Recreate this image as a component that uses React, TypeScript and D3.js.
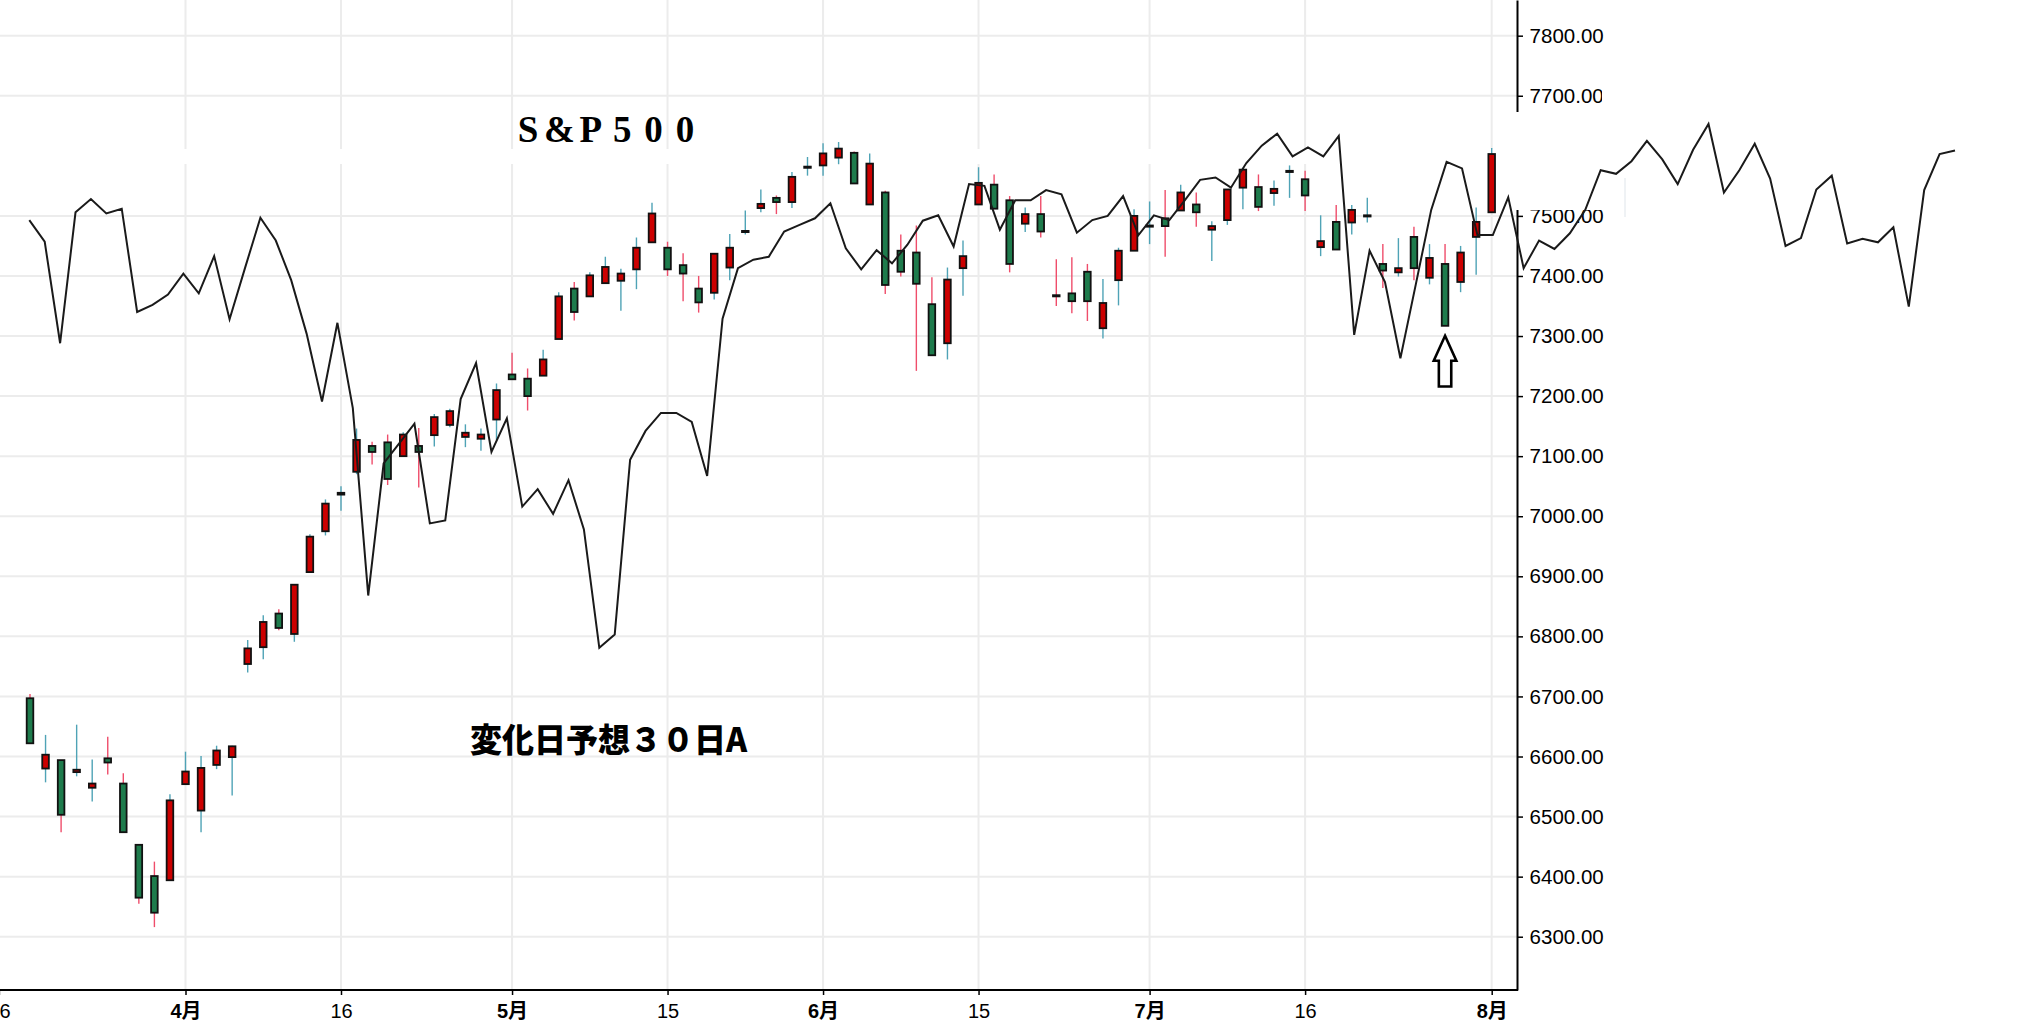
import React, { useEffect, useRef } from 'react';
import * as d3 from 'd3';

const W = 2025;
const H = 1024;

// trading calendar (NYSE 2026)
const firstDay = '2026-03-16';
const lastDay = '2026-08-03';
const holidays = ['2026-04-03', '2026-05-25', '2026-06-19', '2026-07-03'];

// candles start on 2026-03-18
const firstCandle = '2026-03-18';
const opens = [6697, 6580, 6594, 6574, 6548, 6597, 6555, 6453, 6401, 6394, 6554, 6510, 6586, 6599,
  6754, 6782, 6838, 6804, 6907, 6975, 7036, 7074, 7117, 7123, 7100, 7117, 7135, 7152, 7132, 7129,
  7161, 7236, 7229, 7234, 7295, 7379, 7366, 7388, 7392, 7411, 7456, 7447, 7418, 7379, 7372, 7414,
  7473, 7513, 7530, 7523, 7580, 7584, 7597, 7605, 7519, 7539, 7442, 7439, 7353, 7288, 7413, 7519,
  7552, 7526, 7487, 7503, 7368, 7371, 7407, 7313, 7393, 7442, 7482, 7496, 7509, 7519, 7477, 7493,
  7547, 7548, 7538, 7573, 7561, 7448, 7490, 7489, 7499, 7420, 7406, 7465, 7397, 7420, 7390, 7465, 7506];
const highs = [6704, 6636, 6594, 6653, 6595, 6633, 6572, 6453, 6425, 6537, 6608, 6601, 6618, 6618,
  6794, 6835, 6845, 6886, 6970, 7028, 7050, 7146, 7124, 7136, 7140, 7147, 7170, 7179, 7153, 7146,
  7221, 7272, 7246, 7277, 7373, 7390, 7406, 7432, 7412, 7464, 7522, 7457, 7438, 7400, 7437, 7470,
  7509, 7544, 7534, 7573, 7598, 7621, 7623, 7607, 7604, 7542, 7469, 7484, 7398, 7414, 7459, 7581,
  7569, 7533, 7514, 7533, 7428, 7431, 7420, 7395, 7447, 7511, 7524, 7543, 7552, 7539, 7491, 7544,
  7580, 7569, 7559, 7584, 7575, 7501, 7518, 7518, 7530, 7453, 7463, 7482, 7453, 7453, 7450, 7514, 7613];
const lows = [6622, 6557, 6474, 6567, 6525, 6570, 6474, 6355, 6316, 6394, 6554, 6474, 6579, 6535,
  6740, 6762, 6810, 6791, 6907, 6968, 7009, 7070, 7086, 7052, 7100, 7048, 7116, 7148, 7115, 7109,
  7127, 7228, 7176, 7234, 7295, 7326, 7366, 7388, 7342, 7378, 7456, 7400, 7358, 7339, 7361, 7393,
  7469, 7506, 7503, 7513, 7567, 7567, 7586, 7554, 7519, 7370, 7399, 7242, 7268, 7261, 7367, 7519,
  7512, 7406, 7473, 7464, 7350, 7338, 7325, 7296, 7351, 7442, 7453, 7432, 7509, 7482, 7425, 7485,
  7511, 7508, 7517, 7530, 7508, 7433, 7444, 7469, 7489, 7380, 7399, 7393, 7386, 7317, 7373, 7402, 7506];
const closes = [6622, 6603, 6503, 6578, 6555, 6590, 6474, 6365, 6340, 6527, 6575, 6581, 6610, 6617,
  6780, 6824, 6814, 6886, 6966, 7021, 7039, 7127, 7107, 7062, 7136, 7107, 7165, 7175, 7139, 7136,
  7210, 7228, 7200, 7261, 7366, 7340, 7401, 7415, 7404, 7447, 7504, 7411, 7404, 7356, 7437, 7447,
  7475, 7520, 7523, 7565, 7582, 7604, 7612, 7554, 7587, 7385, 7407, 7387, 7268, 7394, 7433, 7555,
  7512, 7420, 7503, 7474, 7366, 7358, 7358, 7355, 7442, 7500, 7484, 7483, 7539, 7506, 7483, 7544,
  7577, 7515, 7545, 7575, 7534, 7458, 7444, 7510, 7501, 7409, 7413, 7413, 7430, 7317, 7439, 7490, 7603];

// 変化日予想 line (its own evenly spaced steps)
const forecast = [7493, 7457, 7288, 7506, 7528, 7504, 7512, 7340, 7352, 7369, 7404, 7371, 7433, 7328,
  7413, 7497, 7459, 7393, 7304, 7191, 7322, 7180, 6868, 7088, 7121, 7154, 6988, 6993, 7195, 7255,
  7107, 7163, 7016, 7045, 7004, 7060, 6978, 6781, 6803, 7094, 7142, 7172, 7172, 7157, 7067, 7329,
  7413, 7427, 7432, 7474, 7485, 7496, 7521, 7446, 7411, 7443, 7421, 7452, 7492, 7501, 7449, 7553,
  7550, 7477, 7526, 7526, 7543, 7536, 7472, 7493, 7500, 7533, 7468, 7501, 7493, 7526, 7560, 7564,
  7547, 7588, 7617, 7637, 7599, 7614, 7599, 7633, 7302, 7442, 7390, 7263, 7386, 7510, 7590, 7579,
  7468, 7468, 7531, 7413, 7459, 7445, 7471, 7510, 7576, 7570, 7591, 7625, 7594, 7553, 7610, 7653,
  7539, 7576, 7620, 7562, 7450, 7463, 7544, 7567, 7454, 7462, 7456, 7481, 7349, 7543, 7603, 7609];

const xTickDates = ['2026-03-16', '2026-04-01', '2026-04-16', '2026-05-01', '2026-05-15',
  '2026-06-01', '2026-06-15', '2026-07-01', '2026-07-16', '2026-08-03'];
const xTickLabels = ['16', '4月', '16', '5月', '15', '6月', '15', '7月', '16', '8月'];
const yTicks = [6300, 6400, 6500, 6600, 6700, 6800, 6900, 7000, 7100, 7200, 7300, 7400, 7500, 7600, 7700, 7800];

const title = 'S&P500';
const note = '変化日予想３０日A';
const arrowDate = '2026-07-29';

const fmt = d3.timeFormat('%Y-%m-%d');
const parse = d3.timeParse('%Y-%m-%d');
const tradingDays = d3.timeDays(parse(firstDay)!, d3.timeDay.offset(parse(lastDay)!, 1))
  .filter(d => d.getDay() !== 0 && d.getDay() !== 6 && !holidays.includes(fmt(d)))
  .map(d => fmt(d));
const dayIndex = (s: string) => tradingDays.indexOf(s);

const plotRight = 1517;
const plotBottom = 990;

export default function App() {
  const yAxisRef = useRef<SVGGElement>(null);
  const xAxisRef = useRef<SVGGElement>(null);

  const x = d3.scaleLinear().domain([0, tradingDays.length - 1]).range([-1.1, 1491.7]);
  const y = d3.scaleLinear().domain([6211.3, 7859.4]).range([plotBottom, 0]);
  const lx = d3.scaleLinear().domain([0, forecast.length - 1]).range([29.3, 1955]);

  const start = dayIndex(firstCandle);
  const candles = opens.map((o, k) => ({ i: start + k, o, h: highs[k], l: lows[k], c: closes[k] }));
  const tickIdx = xTickDates.map(dayIndex);

  useEffect(() => {
    const ya = d3.select(yAxisRef.current!);
    ya.call(d3.axisRight(y).tickValues(yTicks).tickFormat(d3.format('.2f')).tickSize(6).tickSizeOuter(0).tickPadding(6.6) as any);
    ya.select('.domain').attr('stroke', '#000').attr('stroke-width', 2);
    ya.selectAll('.tick line').attr('stroke', '#000').attr('stroke-width', 1.5);
    ya.selectAll('.tick text').attr('font-family', '"Liberation Sans", Arial, sans-serif').attr('font-size', 20.5).attr('fill', '#000');

    const xa = d3.select(xAxisRef.current!);
    xa.call(d3.axisBottom(x).tickValues(tickIdx).tickFormat((d: any, i: number) => xTickLabels[i]).tickSize(5).tickPadding(9) as any);
    xa.select('.domain').remove();
    xa.selectAll('.tick line').attr('stroke', '#000').attr('stroke-width', 1.5);
    xa.selectAll('.tick text')
      .attr('font-family', '"Liberation Sans", "Noto Sans CJK JP", sans-serif')
      .attr('font-size', 20)
      .attr('fill', '#000')
      .attr('font-weight', (d: any, i: number) => (xTickLabels[i].includes('月') ? 'bold' : 'normal'));
  }, []);

  const linePath = d3.line<number>().x((d, j) => lx(j)).y(d => y(d))(forecast) || '';

  const ai = dayIndex(arrowDate);
  const ak = ai - start;
  const ax = x(ai);
  const tip = y(lows[ak]) + 10;
  const arrow = `M${ax},${tip} L${ax + 11.3},${tip + 25} L${ax + 6.2},${tip + 25} L${ax + 6.2},${tip + 50.7} L${ax - 6.2},${tip + 50.7} L${ax - 6.2},${tip + 25} L${ax - 11.3},${tip + 25} Z`;

  const titleXs = title.split('').map((_, k) => 528 + k * 31.4).join(' ');

  return (
    <svg width={W} height={H} style={{ position: 'absolute', left: 0, top: 0, background: '#fff' }}>
      <rect x={0} y={0} width={W} height={H} fill='#fff' />
      {/* grid */}
      {yTicks.map(v => (
        <line key={'gy' + v} x1={0} x2={plotRight} y1={y(v)} y2={y(v)} stroke='#ececec' strokeWidth={2} />
      ))}
      {tickIdx.map(i => (
        <line key={'gx' + i} x1={x(i)} x2={x(i)} y1={0} y2={plotBottom} stroke='#ececec' strokeWidth={2} />
      ))}
      {/* pasted-over band */}
      <rect x={0} y={149} width={plotRight} height={15} fill='#fff' />

      {/* candles */}
      {candles.map(d => {
        const up = d.c >= d.o;
        const cx = x(d.i);
        const top = y(Math.max(d.o, d.c));
        const bot = y(Math.min(d.o, d.c));
        return (
          <g key={'c' + d.i}>
            <line x1={cx} x2={cx} y1={y(d.h)} y2={y(d.l)} stroke={up ? '#4fa3b6' : '#ef4d6b'} strokeWidth={1.4} />
            <rect x={cx - 3.3} y={top} width={6.6} height={Math.max(bot - top, 0.8)}
              fill={up ? '#cc0000' : '#1e7b4c'} stroke='#111' strokeWidth={1.8} />
          </g>
        );
      })}

      {/* axes */}
      <line x1={0} x2={plotRight + 1} y1={plotBottom} y2={plotBottom} stroke='#000' strokeWidth={2} />
      <g ref={xAxisRef} transform={`translate(0,${plotBottom})`} />
      <g ref={yAxisRef} transform={`translate(${plotRight},0)`} />
      {/* cut-outs from the overlaid picture */}
      <rect x={plotRight - 4} y={112} width={100} height={98} fill='#fff' />
      <rect x={1602} y={84} width={20} height={28} fill='#fff' />
      <line x1={1625} x2={1625} y1={178} y2={217} stroke='#dfe5ea' strokeWidth={1} />

      {/* texts */}
      <text x={titleXs} y={142} textAnchor='middle' fontFamily='"Liberation Serif", "DejaVu Serif", serif'
        fontWeight='bold' fontSize={37} fill='#000'>{title}</text>
      <text x={470} y={752} fontFamily='"Noto Sans CJK JP", sans-serif' fontWeight={900} fontSize={33}
        textLength={277} lengthAdjust='spacingAndGlyphs' fill='#000'>{note}</text>

      {/* forecast line */}
      <path d={linePath} fill='none' stroke='#1a1a1a' strokeWidth={2} strokeLinejoin='miter' />

      {/* arrow */}
      <path d={arrow} fill='#fff' stroke='#000' strokeWidth={2.6} strokeLinejoin='miter' />
    </svg>
  );
}
